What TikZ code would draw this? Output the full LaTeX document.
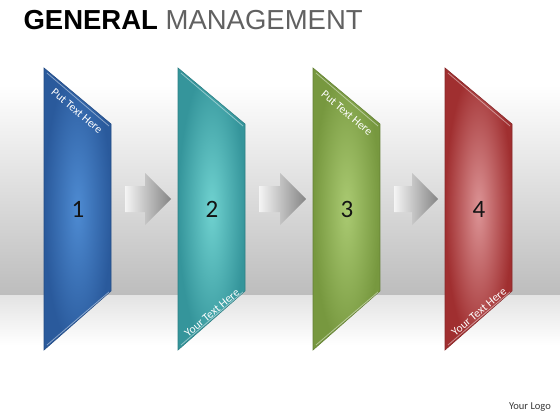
\documentclass[tikz,border=0pt]{standalone}
\usepackage{fontspec}
\setmainfont{Liberation Sans}
\newfontfamily\calib{Carlito}
\usetikzlibrary{calc}

\definecolor{blueOut}{HTML}{2A5A9C}
\definecolor{blueIn}{HTML}{4E8BD2}
\definecolor{tealOut}{HTML}{35959B}
\definecolor{tealIn}{HTML}{70D2D0}
\definecolor{greenOut}{HTML}{77983F}
\definecolor{greenIn}{HTML}{AACA72}
\definecolor{redOut}{HTML}{A02F30}
\definecolor{redIn}{HTML}{DC9496}

\begin{document}
\begin{tikzpicture}[x=1pt, y=-1pt,
    title/.style={anchor=base west, font=\fontsize{27.5}{30}\selectfont},
    num/.style={font=\calib\fontsize{25}{27}\selectfont, text=black!92},
    hint/.style={font=\calib\fontsize{11.5}{13}\selectfont, text=white, inner sep=0pt},
    flow/.style={left color=black!4, right color=black!48, draw=none},
    logo/.style={font=\calib\fontsize{10.5}{12}\selectfont, text=black!78}
]
    \useasboundingbox (0,0) rectangle (560,420);

    % Backdrop
    \shade[top color=white, middle color=black!5, bottom color=black!26] (0,85) rectangle (560,295);
    \shade[top color=black!11, bottom color=white] (0,295) rectangle (560,345);

    % Heading
    \node[title] (head) at (20,30) {\textbf{GENERAL} \textcolor{black!62}{MANAGEMENT}};

    % Panels
    \foreach \x/\n/\c in {44/1/blue, 178/2/teal, 313/3/green, 445/4/red} {
        \shade[inner color=\c In, outer color=\c Out, draw=\c Out!85!black, line width=0.6pt]
            (\x,68) -- (\x+67,124) -- (\x+67,291) -- (\x,350) -- cycle;
        \draw[white, opacity=0.45, line width=0.8pt] (\x+3,73) -- (\x+65,126);
        \draw[white, opacity=0.45, line width=0.8pt] (\x+3,345) -- (\x+65,292);
        \coordinate (l\n) at (\x,199);
        \coordinate (r\n) at (\x+67,199);
        \node[num] (n\n) at (\x+34,209) {\n};
    }

    % Panel hints
    \node[hint, rotate=-40] (t1) at (77,111) {Put Text Here};
    \node[hint, rotate=-40] (t3) at (347,113) {Put Text Here};
    \node[hint, rotate=40] (b2) at (212,313) {Your Text Here};
    \node[hint, rotate=40] (b4) at (479,312) {Your Text Here};

    % Block arrows
    \foreach \a/\b in {1/2, 2/3, 3/4} {
        \shade[flow] ($(r\a)+(14,-13)$) -- ($(l\b)+(-33,-13)$) -- ($(l\b)+(-33,-26)$)
            -- ($(l\b)+(-7,0)$) -- ($(l\b)+(-33,26)$) -- ($(l\b)+(-33,13)$)
            -- ($(r\a)+(14,13)$) -- cycle;
    }

    \node[logo] (logo) at (530,407) {Your Logo};
\end{tikzpicture}
\end{document}
